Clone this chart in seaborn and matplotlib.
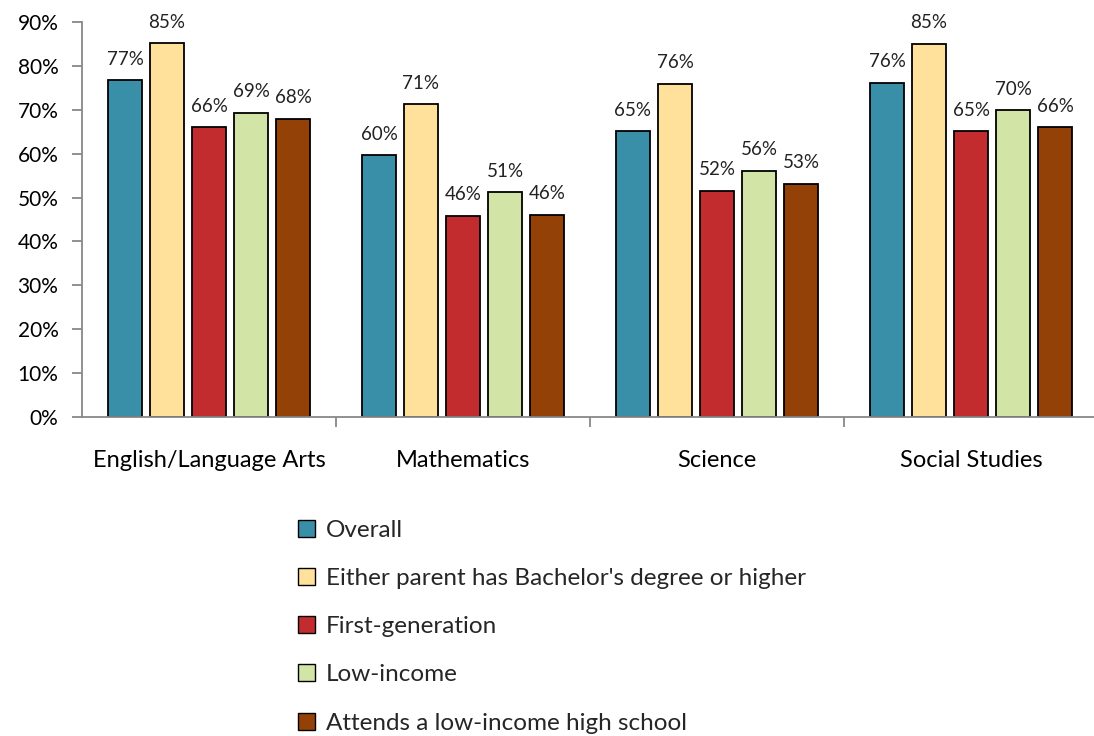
import matplotlib
matplotlib.use("Agg")
import matplotlib.pyplot as plt
import seaborn as sns
import pandas as pd
import numpy as np
from matplotlib.patches import Patch
from matplotlib.ticker import FixedLocator, PercentFormatter

subjects = ["English/Language Arts", "Mathematics", "Science", "Social Studies"]
groups = ["Overall", "Either parent has Bachelor's degree or higher",
          "First-generation", "Low-income", "Attends a low-income high school"]
overall = [0.767, 0.596, 0.651, 0.762]
bachelor = [0.852, 0.713, 0.759, 0.850]
first_gen = [0.660, 0.459, 0.516, 0.651]
low_income = [0.693, 0.512, 0.561, 0.699]
low_income_hs = [0.680, 0.461, 0.531, 0.660]
labels = [["77%", "60%", "65%", "76%"],
          ["85%", "71%", "76%", "85%"],
          ["66%", "46%", "52%", "65%"],
          ["69%", "51%", "56%", "70%"],
          ["68%", "46%", "53%", "66%"]]
colors = ["#3A8FA8", "#FFE19B", "#C32C2F", "#D2E4A6", "#944108"]

series = [overall, bachelor, first_gen, low_income, low_income_hs]
rows = []
for g, vals in zip(groups, series):
    for s, v in zip(subjects, vals):
        rows.append({"subject": s, "group": g, "value": v})
df = pd.DataFrame(rows)

sns.set_style("white")
plt.rcParams["font.family"] = ["Lato", "DejaVu Sans"]

fig = plt.figure(figsize=(10.94, 7.36), dpi=100)
ax = fig.add_axes([82/1094, (736-417)/736, 1016/1094, 395/736])

sns.barplot(data=df, x="subject", y="value", hue="group", order=subjects,
            hue_order=groups, palette=colors, saturation=1, width=0.827, gap=0.17,
            edgecolor="black", linewidth=1.3, ax=ax, legend=False)

for container, labs in zip(ax.containers, labels):
    ax.bar_label(container, labels=labs, padding=9, fontsize=13.5, color="#222222")

ax.set_ylim(0, 0.9)
ax.set_xlim(-0.5, 3.5)
ax.yaxis.set_major_locator(FixedLocator(np.arange(0, 0.91, 0.1)))
ax.yaxis.set_major_formatter(PercentFormatter(1.0, decimals=0))
ax.set_xlabel("")
ax.set_ylabel("")
for side in ["top", "right"]:
    ax.spines[side].set_visible(False)
for side in ["left", "bottom"]:
    ax.spines[side].set_color("#888888")
    ax.spines[side].set_linewidth(1.3)
ax.tick_params(axis="y", which="major", left=True, length=7, width=1.3,
               color="#888888", labelsize=15, pad=10, labelcolor="black")
ax.tick_params(axis="x", which="major", bottom=False, labelsize=17, pad=20,
               labelcolor="black")
ax.xaxis.set_minor_locator(FixedLocator([0.5, 1.5, 2.5, 3.5]))
ax.tick_params(axis="x", which="minor", bottom=True, length=7, width=1.3,
               color="#888888")

handles = [Patch(facecolor=c, edgecolor="black", linewidth=1.0) for c in colors]
fig.legend(handles, groups, loc="upper left", bbox_to_anchor=(288/1094, 1 - 510/736),
           frameon=False, fontsize=17.5, handlelength=0.7, handleheight=0.7,
           handletextpad=0.45, labelspacing=1.12, borderaxespad=0)

fig.savefig("out.png", dpi=100)
